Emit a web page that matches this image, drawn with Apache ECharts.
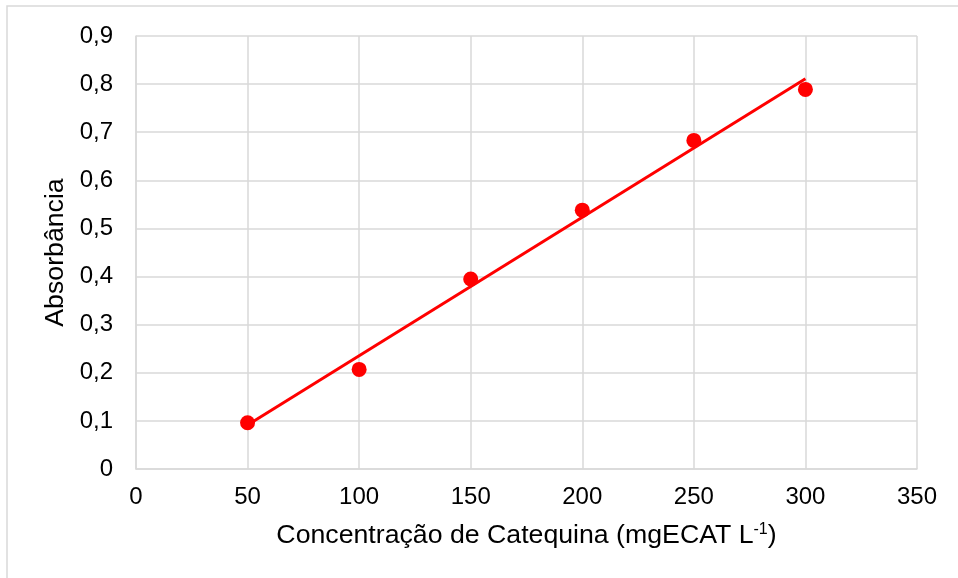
<!DOCTYPE html>
<html><head><meta charset="utf-8">
<script src="https://cdn.jsdelivr.net/npm/echarts@6/dist/echarts.min.js"></script>
<style>html,body{margin:0;padding:0;background:#fff}#c{width:958px;height:578px}</style>
</head><body><div id="c"></div>
<script>
const concentrations = [50, 100, 150, 200, 250, 300];
const absorbance = [0.096, 0.207, 0.395, 0.538, 0.683, 0.789];
const xTicks = [0, 50, 100, 150, 200, 250, 300, 350];
const yTicks = [0, 0.1, 0.2, 0.3, 0.4, 0.5, 0.6, 0.7, 0.8, 0.9];

// least-squares trend line from the data
const n = concentrations.length;
const mx = concentrations.reduce((a,b)=>a+b,0)/n;
const my = absorbance.reduce((a,b)=>a+b,0)/n;
let sxy=0, sxx=0;
for(let i=0;i<n;i++){sxy+=(concentrations[i]-mx)*(absorbance[i]-my);sxx+=(concentrations[i]-mx)**2;}
const slope=sxy/sxx, icpt=my-slope*mx;
const xFirst=concentrations[0], xLast=concentrations[n-1];
const trend=[[xFirst,icpt+slope*xFirst],[xLast,icpt+slope*xLast]];

const chart = echarts.init(document.getElementById('c'));
const font = 'Liberation Sans, Arial, sans-serif';
chart.setOption({
  animation:false,
  textStyle:{fontFamily:font},
  graphic:[{type:'rect',shape:{x:7,y:6,width:1000,height:1000},style:{fill:'none',stroke:'#d9d9d9',lineWidth:1.5},silent:true}],
  grid:{left:136,right:41,top:36,bottom:109},
  xAxis:{type:'value',min:xTicks[0],max:xTicks[xTicks.length-1],interval:50,
    axisLine:{show:true,lineStyle:{color:'#d9d9d9',width:1.5}},axisTick:{show:false},
    splitLine:{show:true,lineStyle:{color:'#d9d9d9',width:1.5}},
    axisLabel:{color:'#000',fontSize:24,margin:16,fontFamily:font},
    name:'{n|Concentração de Catequina (mgECAT L}{s|-1}{n|)}',nameLocation:'middle',nameGap:53,
    nameTextStyle:{rich:{n:{fontSize:26.7,color:'#000',fontFamily:font},s:{fontSize:16,color:'#000',fontFamily:font,padding:[0,0,12,0]}}}
  },
  yAxis:{type:'value',min:yTicks[0],max:yTicks[yTicks.length-1],interval:0.1,
    axisLine:{show:true,lineStyle:{color:'#d9d9d9',width:1.5}},axisTick:{show:false},
    splitLine:{show:true,lineStyle:{color:'#d9d9d9',width:1.5}},
    axisLabel:{color:'#000',fontSize:24,margin:23,fontFamily:font,
      formatter:v=>v===0?'0':v.toFixed(1).replace('.',',')},
    name:'Absorbância',nameLocation:'middle',nameGap:63,
    nameTextStyle:{fontSize:26.7,color:'#000',fontFamily:font}
  },
  series:[
    {type:'line',data:trend,symbol:'none',lineStyle:{color:'#ff0000',width:3},z:2},
    {type:'scatter',data:concentrations.map((x,i)=>[x,absorbance[i]]),symbol:'circle',symbolSize:15,
      itemStyle:{color:'#ff0000',opacity:1},z:3}
  ]
});
</script></body></html>
